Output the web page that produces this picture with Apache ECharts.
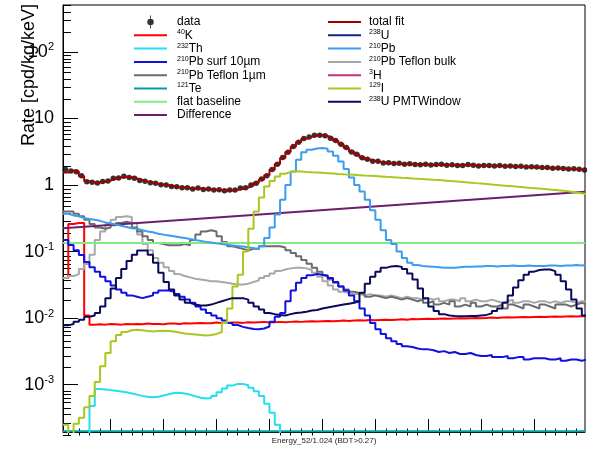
<!DOCTYPE html>
<html><head><meta charset="utf-8">
<script src="https://cdn.jsdelivr.net/npm/echarts@6/dist/echarts.min.js"></script>
<style>html,body{margin:0;padding:0;background:#fff}#c{width:594px;height:450px}</style>
</head><body><div id="c"></div>
<script>
// ---- axis ranges / ticks ----
const X_MIN = 1, X_MAX = 99.6, BIN_START = 1, BIN_WIDTH = 1;
const Y_MIN = 1.95e-4, Y_MAX = 507;
const EMPTY_BIN = 1e-7; // empty bins are drawn below the frame
const xMajorTicks = [10,20,30,40,50,60,70,80,90];
const xMinorTicks = [2,4,6,8,12,14,16,18,22,24,26,28,32,34,36,38,42,44,46,48,52,54,56,58,62,64,66,68,72,74,76,78,82,84,86,88,92,94,96,98];
const yMajorTicks = [0.001,0.01,0.1,1,10,100];
const yTickLabels = ['{b|10}{s|-3}','{b|10}{s|-2}','{b|10}{s|-1}','{b|1}','{b|10}','{b|10}{s|2}'];
const yMinorTicks = [0.0002,0.0003,0.0004,0.0005,0.0006,0.0007,0.0008,0.0009,
  0.002,0.003,0.004,0.005,0.006,0.007,0.008,0.009,
  0.02,0.03,0.04,0.05,0.06,0.07,0.08,0.09,
  0.2,0.3,0.4,0.5,0.6,0.7,0.8,0.9,
  2,3,4,5,6,7,8,9,20,30,40,50,60,70,80,90,200,300,400,500];

// ---- series values (one value per bin) ----
const dataValues = [1.72,1.62,1.58,1.38,1.12,1.10,1.07,1.13,1.15,1.26,
  1.28,1.36,1.30,1.27,1.17,1.14,1.08,1.06,1.01,1.00,
  0.95,0.94,0.91,0.91,0.87,0.90,0.86,0.87,0.84,0.85,
  0.82,0.84,0.84,0.90,0.91,1.00,1.06,1.23,1.38,1.72,
  2.05,2.60,3.12,3.80,4.40,5.00,5.25,5.60,5.58,5.50,
  5.05,4.66,4.10,3.66,3.15,2.90,2.57,2.45,2.28,2.27,
  2.15,2.17,2.10,2.12,2.05,2.09,2.04,2.01,2.06,2.00,
  2.04,2.05,1.98,2.02,1.97,1.96,2.03,1.99,1.94,1.97,
  1.96,1.93,1.97,1.91,1.94,1.90,1.92,1.87,1.89,1.86,
  1.83,1.84,1.79,1.81,1.78,1.74,1.76,1.73,1.69];
const totalFit = [1.54,1.65,1.60,1.36,1.14,1.09,1.09,1.12,1.17,1.24,
  1.30,1.33,1.31,1.26,1.19,1.13,1.09,1.05,1.02,0.99,
  0.96,0.93,0.92,0.90,0.89,0.89,0.87,0.86,0.85,0.84,
  0.83,0.83,0.85,0.88,0.92,0.98,1.08,1.21,1.40,1.70,
  2.08,2.56,3.15,3.75,4.45,4.95,5.30,5.55,5.62,5.45,
  5.10,4.62,4.15,3.62,3.18,2.86,2.60,2.42,2.32,2.24,
  2.18,2.14,2.11,2.09,2.07,2.06,2.05,2.04,2.03,2.02,
  2.02,2.01,2.00,2.00,1.99,1.98,1.98,1.97,1.96,1.95,
  1.95,1.94,1.93,1.92,1.91,1.90,1.88,1.87,1.85,1.83,
  1.82,1.80,1.79,1.77,1.76,1.74,1.73,1.71,1.70];
const k40 = [0.040,0.26,0.27,0.27,0.011,0.0080,0.0081,0.0080,0.0082,0.0081,
  0.0080,0.0082,0.0081,0.0082,0.0081,0.0083,0.0082,0.0082,0.0081,0.0083,
  0.0083,0.0082,0.0084,0.0083,0.0084,0.0085,0.0084,0.0084,0.0086,0.0085,
  0.0085,0.0086,0.0086,0.0085,0.0087,0.0086,0.0087,0.0088,0.0086,0.0087,
  0.0088,0.0087,0.0088,0.0089,0.0088,0.0089,0.0090,0.0089,0.0090,0.0091,
  0.0090,0.0091,0.0092,0.0091,0.0092,0.0093,0.0092,0.0094,0.0093,0.0094,
  0.0095,0.0094,0.0095,0.0096,0.0095,0.0097,0.0096,0.0097,0.0098,0.0097,
  0.0098,0.0099,0.0098,0.0099,0.0100,0.0099,0.0100,0.0101,0.0100,0.0101,
  0.0102,0.0101,0.0102,0.0103,0.0102,0.0103,0.0104,0.0103,0.0104,0.0105,
  0.0104,0.0105,0.0106,0.0105,0.0106,0.0107,0.0106,0.0107,0.0107];
const th232 = [0,0,0,0,0,0.00048,0.00086,0.00085,0.00083,0.00081,
  0.00079,0.00077,0.00074,0.00071,0.00068,0.00066,0.00065,0.00066,0.00069,0.00072,
  0.00075,0.00076,0.00074,0.00071,0.00067,0.00064,0.00062,0.00063,0.00068,0.00077,
  0.00088,0.00097,0.00103,0.00103,0.00098,0.00090,0.00080,0.00068,0.00052,0.00038,
  0.00025,0,0,0,0,0,0,0,0,0,
  0,0,0,0,0,0,0,0,0,0,
  0,0,0,0,0,0,0,0,0,0,
  0,0,0,0,0,0,0,0,0,0,
  0,0,0,0,0,0,0,0,0,0,
  0,0,0,0,0,0,0,0,0];
const pbSurf = [0.150,0.126,0.105,0.089,0.070,0.058,0.050,0.042,0.036,0.031,
  0.027,0.024,0.022,0.021,0.020,0.021,0.022,0.024,0.026,0.026,
  0.025,0.023,0.021,0.019,0.017,0.015,0.0135,0.012,0.011,0.0100,
  0.0092,0.0085,0.0079,0.0074,0.0071,0.0069,0.0068,0.0070,0.0075,0.0088,
  0.0105,0.012,0.018,0.026,0.034,0.040,0.044,0.046,0.045,0.043,
  0.040,0.035,0.030,0.026,0.022,0.018,0.014,0.011,0.0085,0.0068,
  0.0058,0.0050,0.0045,0.0041,0.0038,0.0037,0.0035,0.0034,0.0034,0.0033,
  0.0031,0.0032,0.0030,0.0031,0.0029,0.0029,0.0030,0.0028,0.0027,0.0027,
  0.0028,0.0026,0.0026,0.0027,0.0025,0.0026,0.0026,0.0024,0.0025,0.0025,
  0.0025,0.0024,0.0024,0.0025,0.0023,0.0024,0.0024,0.0023,0.0024];
const pbTeflon1um = [0.40,0.40,0.37,0.34,0.30,0.26,0.23,0.22,0.23,0.25,
  0.27,0.28,0.27,0.23,0.20,0.17,0.15,0.135,0.13,0.125,
  0.125,0.125,0.13,0.125,0.15,0.18,0.20,0.21,0.20,0.17,
  0.14,0.12,0.115,0.11,0.105,0.11,0.11,0.12,0.12,0.12,
  0.12,0.115,0.105,0.095,0.085,0.075,0.066,0.057,0.050,0.044,
  0.038,0.034,0.030,0.027,0.025,0.024,0.023,0.021,0.022,0.021,
  0.020,0.021,0.020,0.019,0.020,0.019,0.018,0.019,0.017,0.018,
  0.016,0.017,0.016,0.018,0.015,0.016,0.015,0.017,0.015,0.016,
  0.015,0.015,0.016,0.014,0.016,0.015,0.014,0.016,0.015,0.014,
  0.016,0.015,0.014,0.016,0.016,0.015,0.016,0.017,0.016];
const te121 = [0.0002, 0.0002];
const flatBaseline = [0.135, 0.135];
const difference = [0.225, 0.79];
const u238 = [];
const pb210 = [0.37,0.35,0.34,0.32,0.31,0.30,0.29,0.275,0.265,0.255,
  0.245,0.235,0.225,0.22,0.21,0.20,0.195,0.185,0.18,0.175,
  0.17,0.165,0.16,0.155,0.15,0.145,0.14,0.137,0.133,0.13,
  0.127,0.124,0.121,0.119,0.116,0.112,0.108,0.12,0.16,0.23,
  0.36,0.60,1.0,1.6,2.4,3.1,3.4,3.55,3.6,3.5,
  3.2,2.75,2.25,1.75,1.3,1.0,0.80,0.60,0.42,0.30,
  0.21,0.15,0.13,0.10,0.08,0.068,0.063,0.061,0.060,0.059,
  0.058,0.057,0.057,0.057,0.058,0.059,0.059,0.060,0.060,0.061,
  0.061,0.060,0.061,0.061,0.062,0.061,0.061,0.062,0.061,0.061,
  0.061,0.062,0.062,0.061,0.062,0.062,0.063,0.062,0.063];
const pbTeflonBulk = [0.040,0.043,0.046,0.055,0.065,0.09,0.15,0.20,0.26,0.30,
  0.33,0.34,0.33,0.27,0.18,0.13,0.105,0.080,0.068,0.058,
  0.051,0.046,0.043,0.041,0.039,0.038,0.037,0.036,0.036,0.035,
  0.034,0.033,0.032,0.032,0.033,0.035,0.037,0.040,0.043,0.047,
  0.051,0.054,0.056,0.057,0.057,0.056,0.053,0.048,0.042,0.036,
  0.031,0.027,0.025,0.024,0.023,0.023,0.022,0.023,0.022,0.022,
  0.021,0.022,0.021,0.020,0.021,0.020,0.020,0.019,0.020,0.019,
  0.020,0.018,0.019,0.019,0.018,0.020,0.018,0.019,0.018,0.018,
  0.019,0.018,0.017,0.018,0.019,0.017,0.018,0.018,0.017,0.018,
  0.018,0.017,0.018,0.017,0.018,0.018,0.017,0.018,0.018];
const h3 = [];
const i129 = [0.00025,0.00018,0.00026,0.00032,0.00046,0.00068,0.0011,0.0019,0.0030,0.0045,
  0.0056,0.0062,0.0066,0.0067,0.0066,0.0064,0.0063,0.0064,0.0065,0.0064,
  0.0063,0.0061,0.0059,0.0058,0.0057,0.0056,0.0055,0.0056,0.0058,0.0062,
  0.0085,0.014,0.030,0.045,0.10,0.22,0.40,0.65,0.95,1.15,
  1.35,1.48,1.57,1.61,1.60,1.576,1.557,1.541,1.525,1.507,
  1.489,1.471,1.454,1.439,1.424,1.407,1.390,1.376,1.362,1.346,
  1.330,1.316,1.303,1.287,1.272,1.256,1.241,1.228,1.216,1.201,
  1.187,1.171,1.155,1.137,1.120,1.103,1.086,1.069,1.053,1.035,
  1.017,1.001,0.986,0.971,0.956,0.941,0.927,0.913,0.899,0.885,
  0.872,0.858,0.845,0.831,0.817,0.795,0.773,0.752,0.732];
const u238PMT = [0.0078,0.0082,0.0088,0.0095,0.0105,0.011,0.012,0.015,0.020,0.028,
  0.040,0.055,0.072,0.090,0.104,0.104,0.090,0.068,0.048,0.035,
  0.027,0.022,0.019,0.017,0.016,0.0155,0.0155,0.016,0.017,0.018,
  0.019,0.020,0.020,0.020,0.019,0.017,0.015,0.0135,0.012,0.0115,
  0.0112,0.011,0.0115,0.012,0.0122,0.0125,0.013,0.0133,0.014,0.0145,
  0.015,0.0155,0.016,0.0165,0.017,0.018,0.024,0.033,0.042,0.050,
  0.057,0.060,0.061,0.059,0.055,0.047,0.038,0.028,0.020,0.015,
  0.0128,0.0115,0.011,0.0108,0.0107,0.0107,0.0108,0.0108,0.011,0.0112,
  0.0118,0.0128,0.014,0.017,0.022,0.029,0.037,0.045,0.050,0.053,
  0.054,0.054,0.051,0.045,0.036,0.027,0.019,0.014,0.011];

const legendLeft = ['data','40K','232Th','210Pb surf 10µm','210Pb Teflon 1µm','121Te','flat baseline','Difference'];
const legendRight = ['total fit','238U','210Pb','210Pb Teflon bulk','3H','129I','238U PMTWindow'];
const legendLabels = {'data':'data','40K':'{s|40}K','232Th':'{s|232}Th','210Pb surf 10µm':'{s|210}Pb surf 10µm',
  '210Pb Teflon 1µm':'{s|210}Pb Teflon 1µm','121Te':'{s|121}Te','flat baseline':'flat baseline','Difference':'Difference',
  'total fit':'total fit','238U':'{s|238}U','210Pb':'{s|210}Pb','210Pb Teflon bulk':'{s|210}Pb Teflon bulk',
  '3H':'{s|3}H','129I':'{s|129}I','238U PMTWindow':'{s|238}U PMTWindow'};

// ---- build ----
const FONT = 'Liberation Sans, Arial, sans-serif';
function histPoints(vals){
  if (!vals.length) return [];
  const pts = vals.map((v,i)=>[BIN_START+i*BIN_WIDTH, v>0?v:EMPTY_BIN]);
  const last = vals[vals.length-1];
  pts.push([BIN_START+vals.length*BIN_WIDTH, last>0?last:EMPTY_BIN]);
  return pts;
}
function hist(name, vals, color){
  return {name, type:'line', step:'end', data:histPoints(vals), symbol:'none', showSymbol:false,
    lineStyle:{color, width:2}, itemStyle:{color}, xAxisIndex:0, yAxisIndex:0, silent:true};
}
function flatLine(name, vals, color){
  return {name, type:'line', data:[[X_MIN, vals[0]],[X_MAX, vals[1]]], symbol:'none', showSymbol:false,
    lineStyle:{color, width:2}, itemStyle:{color}, xAxisIndex:0, yAxisIndex:0, silent:true};
}
const series = [
  flatLine('121Te', te121, '#00a0a0'),
  hist('232Th', th232, '#22e0ee'),
  hist('40K', k40, '#ff0000'),
  hist('210Pb Teflon bulk', pbTeflonBulk, '#a8a8a8'),
  hist('210Pb Teflon 1µm', pbTeflon1um, '#6c6c6c'),
  flatLine('flat baseline', flatBaseline, '#82ea82'),
  flatLine('Difference', difference, '#6b1f6b'),
  hist('238U', u238, '#15238a'),
  hist('210Pb surf 10µm', pbSurf, '#1010e0'),
  hist('210Pb', pb210, '#3b9cf0'),
  hist('3H', h3, '#c2307f'),
  hist('129I', i129, '#a8c81e'),
  hist('238U PMTWindow', u238PMT, '#0a0a5a'),
  hist('total fit', totalFit, '#a00000'),
  {name:'data', type:'scatter', data:dataValues.map((v,i)=>[BIN_START+(i+0.5)*BIN_WIDTH, v]),
    symbol:'circle', symbolSize:5.5, itemStyle:{color:'#000'}, xAxisIndex:0, yAxisIndex:0, silent:true}
];
const LINE_ICON = 'path://M0,0h33v2h-33z';
const DATA_ICON = 'path://M2.6,0h0.8v12h-0.8z M0,6a3,3 0 1,1 6,0a3,3 0 1,1 -6,0z';
const legendBase = {orient:'vertical', top:15.5, itemWidth:33, itemHeight:13, itemGap:0.3, padding:0,
  selectedMode:false, formatter:(n)=>legendLabels[n],
  textStyle:{fontFamily:FONT, fontSize:12, color:'#000', lineHeight:13,
    rich:{s:{fontFamily:FONT, fontSize:7, lineHeight:7, verticalAlign:'top'}}}};
const legendIcons = (names)=>names.map(n=>({name:n, icon: n==='data' ? DATA_ICON : LINE_ICON}));
const gridRect = {left:63, right:9, top:5, bottom:14.5};
const chart = echarts.init(document.getElementById('c'), null, {renderer:'canvas'});
chart.setOption({
  animation:false, backgroundColor:'#fff',
  grid:[Object.assign({show:true, borderColor:'#000', borderWidth:1, backgroundColor:'transparent'}, gridRect),
        Object.assign({show:false}, gridRect)],
  legend:[Object.assign({}, legendBase, {left:134, data:legendIcons(legendLeft), textStyle:Object.assign({}, legendBase.textStyle, {padding:[0,0,0,5]})}),
          Object.assign({}, legendBase, {left:328, data:legendIcons(legendRight), textStyle:Object.assign({}, legendBase.textStyle, {padding:[0,0,0,3]})})],
  xAxis:[
    {type:'value', gridIndex:0, min:X_MIN, max:X_MAX, position:'bottom',
     axisLine:{show:true, lineStyle:{color:'#000', width:1}},
     axisTick:{show:true, inside:true, length:13, customValues:xMajorTicks, lineStyle:{color:'#000'}},
     axisLabel:{show:false}, splitLine:{show:false},
     name:'Energy_52/1.024 (BDT>0.27)', nameLocation:'middle', nameGap:5,
     nameTextStyle:{fontFamily:FONT, fontSize:8, color:'#222', verticalAlign:'top'}},
    {type:'value', gridIndex:1, min:X_MIN, max:X_MAX, position:'bottom',
     axisLine:{show:false}, axisTick:{show:true, inside:true, length:7, customValues:xMinorTicks, lineStyle:{color:'#000'}},
     axisLabel:{show:false}, splitLine:{show:false}}
  ],
  yAxis:[
    {type:'log', logBase:10, gridIndex:0, min:Y_MIN, max:Y_MAX, position:'left',
     axisLine:{show:true, lineStyle:{color:'#000', width:1}},
     axisTick:{show:true, inside:true, length:15, customValues:yMajorTicks, lineStyle:{color:'#000'}},
     axisLabel:{show:true, customValues:yMajorTicks, margin:9,
       formatter:(v)=>{const i = yMajorTicks.findIndex(t=>Math.abs(t-v)/t<1e-6); return i>=0?yTickLabels[i]:'';},
       rich:{b:{fontFamily:FONT, fontSize:18, lineHeight:20, color:'#000'},
             s:{fontFamily:FONT, fontSize:11, lineHeight:11, color:'#000', verticalAlign:'top'}}},
     splitLine:{show:false}},
    {type:'log', logBase:10, gridIndex:1, min:Y_MIN, max:Y_MAX, position:'left',
     axisLine:{show:false}, axisTick:{show:true, inside:true, length:8, customValues:yMinorTicks, lineStyle:{color:'#000'}},
     axisLabel:{show:false}, splitLine:{show:false}}
  ],
  graphic:[{type:'text', x:29, y:4, rotation:Math.PI/2,
    style:{text:'Rate [cpd/kg/keV]', fontFamily:FONT, fontSize:18, fill:'#000', textAlign:'right', textVerticalAlign:'middle'}}],
  series
});
</script></body></html>
